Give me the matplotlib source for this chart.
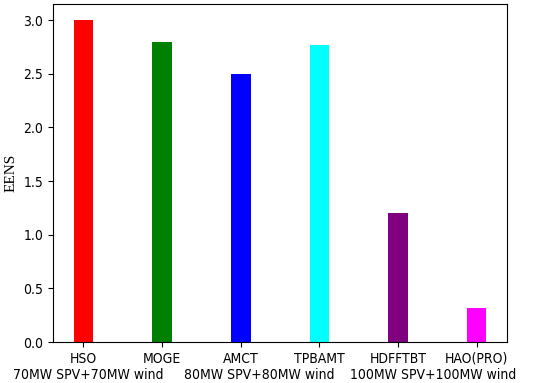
import matplotlib
matplotlib.use("Agg")
import matplotlib.pyplot as plt

methods = ["HSO", "MOGE", "AMCT", "TPBAMT", "HDFFTBT", "HAO(PRO)"]
eens = [3.0, 2.8, 2.5, 2.77, 1.2, 0.32]
colors = ["red", "green", "blue", "cyan", "purple", "magenta"]
scenario_labels = ["70MW SPV+70MW wind", "80MW SPV+80MW wind", "100MW SPV+100MW wind"]
scenario_pos = [0.06, 2.23, 4.45]

fig = plt.figure(figsize=(5.5, 3.83), dpi=100)
ax = fig.add_axes([0.0964, 0.107, 0.8256, 0.8826])
x = list(range(len(methods)))
ax.bar(x, eens, width=0.25, color=colors)
ax.set_xticks(x)
ax.set_xticklabels(methods, fontsize=10, fontstretch="condensed")
for t in ax.get_yticklabels():
    t.set_fontstretch("condensed")
ax.tick_params(axis="y", labelsize=10)
ax.set_ylabel("EENS", fontsize=11, family="Liberation Serif")
for lab, p in zip(scenario_labels, scenario_pos):
    ax.text(p, -0.078, lab, transform=ax.get_xaxis_transform(), ha="center", va="top",
            fontsize=10, fontstretch="condensed")

fig.savefig("out.png", dpi=100)
